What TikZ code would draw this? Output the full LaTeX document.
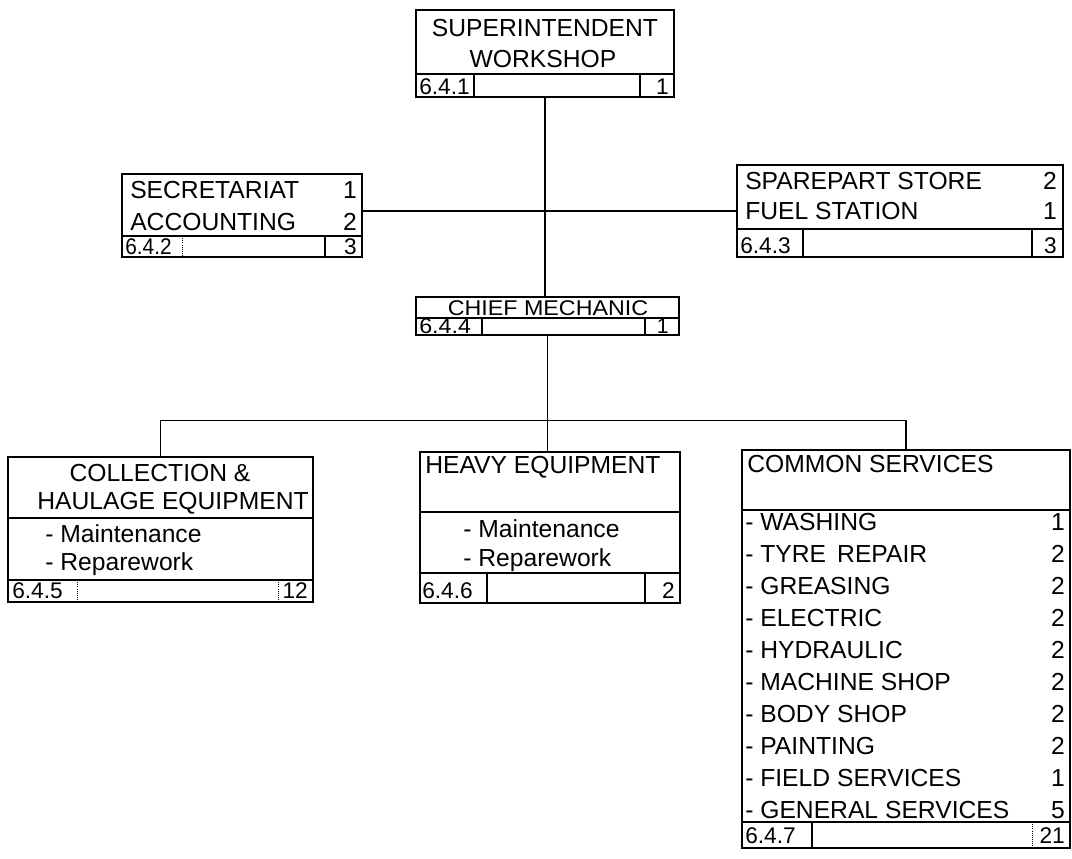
\documentclass[tikz,border=0pt]{standalone}
\usepackage{fontspec}
\setmainfont{Liberation Sans}
\usetikzlibrary{fit}
\begin{document}
\begin{tikzpicture}[x=0.75pt,y=-0.75pt,
  boxline/.style={line width=0.9pt},
  box/.style={draw, line width=0.9pt, inner sep=0pt},
  lbl/.style={inner sep=0pt, anchor=base west, font=\fontsize{18.5}{21}\selectfont},
  lblc/.style={lbl, anchor=base},
  lblr/.style={lbl, anchor=base east},
  code/.style={font=\fontsize{17}{19}\selectfont},
  small/.style={font=\fontsize{16}{18}\selectfont},
  dotdiv/.style={line width=0.6pt, densely dotted},
]
\useasboundingbox (0,0) rectangle (1072,858);

% Superintendent workshop
\node[box, fit={(416,10)(674,97)}] (sup) {};
\draw[boxline] (416,74) -- (674,74);
\draw[boxline] (474,74) -- (474,97);
\draw[boxline] (640,74) -- (640,97);
\node[lblc] (supt1) at (545,36) {SUPERINTENDENT};
\node[lblc] (supt2) at (543,67) {WORKSHOP};
\node[lbl, code] (supc) at (419,94) {6.4.1};
\node[lblr, code] (supn) at (669,94) {1};

% Secretariat
\node[box, fit={(122,174)(362,257)}] (sec) {};
\draw[boxline] (122,236) -- (362,236);
\draw[dotdiv] (182,236) -- (182,257);
\draw[boxline] (325,236) -- (325,257);
\node[lbl] (sect1) at (130,198) {SECRETARIAT};
\node[lblr] (secn1) at (357,198) {1};
\node[lbl] (sect2) at (130,230) {ACCOUNTING};
\node[lblr] (secn2) at (357,230) {2};
\node[lbl, code] (secc) at (125,254) {\scalebox{0.92}[1]{6.4.2}};
\node[lblr, code] (secn) at (357,254) {3};

% Sparepart store
\node[box, fit={(737,165)(1063,257)}] (spare) {};
\draw[boxline] (737,229) -- (1063,229);
\draw[boxline] (803,229) -- (803,257);
\draw[boxline] (1032,229) -- (1032,257);
\node[lbl] (spt1) at (745,189) {SPAREPART STORE};
\node[lblr] (spn1) at (1057,189) {2};
\node[lbl] (spt2) at (745,219) {FUEL STATION};
\node[lblr] (spn2) at (1057,219) {1};
\node[lbl, code] (spc) at (740,253) {6.4.3};
\node[lblr, code] (spn) at (1057,253) {3};

% Chief mechanic
\node[box, fit={(416,297)(679,335)}] (chief) {};
\draw[boxline] (416,318) -- (679,318);
\draw[boxline] (482,318) -- (482,335);
\draw[boxline] (645,318) -- (645,335);
\node[lblc, small] (cht) at (548,315) {\scalebox{1.09}[1]{CHIEF MECHANIC}};
\node[lbl, small] (chc) at (419,333) {\scalebox{1.09}[1]{6.4.4}};
\node[lblr, small] (chn) at (669,333) {1};

% Collection & haulage
\node[box, fit={(8,457)(313,602)}] (coll) {};
\draw[boxline] (8,518) -- (313,518);
\draw[boxline] (8,580) -- (313,580);
\draw[dotdiv] (77,580) -- (77,602);
\draw[dotdiv] (278,580) -- (278,602);
\node[lblc] (colt1) at (160,481) {COLLECTION \&};
\node[lblc] (colt2) at (173,509) {HAULAGE EQUIPMENT};
\node[lbl] (colm) at (45,542) {- Maintenance};
\node[lbl] (colr) at (45,570) {- Reparework};
\node[lbl, code] (colc) at (12,598) {6.4.5};
\node[lblr, code] (coln) at (308,598) {12};

% Heavy equipment
\node[box, fit={(420,452)(680,603)}] (heavy) {};
\draw[boxline] (420,512) -- (680,512);
\draw[boxline] (420,573) -- (680,573);
\draw[boxline] (487,573) -- (487,603);
\draw[boxline] (645,573) -- (645,603);
\node[lbl] (het) at (425,473) {HEAVY EQUIPMENT};
\node[lbl] (hem) at (463,537) {- Maintenance};
\node[lbl] (her) at (463,566) {- Reparework};
\node[lbl, code] (hec) at (422,598) {6.4.6};
\node[lblr, code] (hen) at (675,598) {2};

% Common services
\node[box, fit={(742,450)(1070,848)}] (common) {};
\draw[boxline] (742,510) -- (1070,510);
\draw[boxline] (742,822) -- (1070,822);
\draw[boxline] (812,822) -- (812,848);
\draw[dotdiv] (1032,822) -- (1032,848);
\node[lbl] (cst) at (747,472) {COMMON SERVICES};
\foreach \t/\n [count=\i from 0] in {WASHING/1,TYRE\hspace{0.45em}REPAIR/2,GREASING/2,ELECTRIC/2,HYDRAULIC/2,MACHINE SHOP/2,BODY SHOP/2,PAINTING/2,FIELD SERVICES/1,GENERAL SERVICES/5}{
  \node[lbl] (csr\i) at (745,{530+32*\i}) {- \t};
  \node[lblr] (csn\i) at (1065,{530+32*\i}) {\n};
}
\node[lbl, code] (csc) at (745,843) {6.4.7};
\node[lblr, code] (csn) at (1065,843) {21};

% Connectors
\draw[boxline] (sup.south) -- (sup.south |- chief.north);
\draw[boxline] (sec.east |- spare.west) -- (spare.west);
\draw[boxline] (chief.south) -- (chief.south |- heavy.north);
\draw[boxline] (coll.north) -- ++(0,-36) -| (common.north);
\end{tikzpicture}
\end{document}
